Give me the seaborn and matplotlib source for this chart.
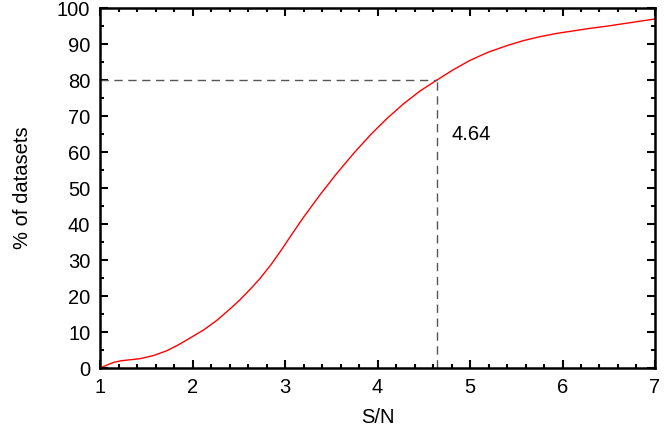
import matplotlib
matplotlib.use("Agg")
import matplotlib.pyplot as plt
import seaborn as sns
import pandas as pd
from matplotlib.ticker import MultipleLocator

sn = [1.0, 1.07, 1.15, 1.22, 1.32, 1.43, 1.58, 1.72, 1.85, 1.97, 2.12, 2.26, 2.4, 2.51,
      2.62, 2.73, 2.85, 2.96, 3.08, 3.2, 3.38, 3.56, 3.74, 3.92, 4.1, 4.28, 4.46, 4.64,
      4.82, 5.0, 5.2, 5.4, 5.58, 5.76, 5.94, 6.12, 6.3, 6.48, 6.74, 7.0]
pct = [0.0, 0.8, 1.6, 2.0, 2.3, 2.6, 3.5, 4.8, 6.5, 8.3, 10.6, 13.2, 16.3, 18.9,
       21.8, 24.9, 28.8, 32.8, 37.4, 41.9, 48.2, 54.1, 59.6, 64.7, 69.3, 73.4, 77.0, 80.0,
       82.9, 85.5, 87.8, 89.6, 91.0, 92.1, 93.0, 93.7, 94.4, 95.0, 96.0, 97.0]
threshold_x = 4.64
threshold_y = 80
label = "4.64"

sns.set_theme(style="ticks")
plt.rcParams['font.family'] = ['Liberation Sans', 'DejaVu Sans']
plt.rcParams['text.color'] = 'black'
plt.rcParams['axes.labelcolor'] = 'black'
plt.rcParams['xtick.labelcolor'] = 'black'
plt.rcParams['ytick.labelcolor'] = 'black'

df = pd.DataFrame({"S/N": sn, "pct": pct})
fig = plt.figure(figsize=(6.67, 4.30), dpi=100)
ax = fig.add_axes([0.150, 0.144, 0.832, 0.837])
sns.lineplot(data=df, x="S/N", y="pct", ax=ax, color="red", linewidth=1.0)

ax.plot([1, threshold_x], [threshold_y, threshold_y], color="#555555", linestyle=(0, (6, 4)), linewidth=1.0)
ax.plot([threshold_x, threshold_x], [0, threshold_y], color="#555555", linestyle=(0, (6, 4)), linewidth=1.0)
ax.text(4.8, 65, label, fontsize=14.5, va="center", ha="left", color="black")

ax.set_xlim(1, 7)
ax.set_ylim(0, 100)
ax.xaxis.set_major_locator(MultipleLocator(1))
ax.xaxis.set_minor_locator(MultipleLocator(0.2))
ax.yaxis.set_major_locator(MultipleLocator(10))
ax.yaxis.set_minor_locator(MultipleLocator(5))
ax.tick_params(which="both", direction="in", top=True, right=True, color="black", width=1.5)
ax.tick_params(which="major", length=6, labelsize=14.5, pad=7)
ax.tick_params(which="minor", length=3)
for s in ax.spines.values():
    s.set_visible(True)
    s.set_linewidth(1.8)
    s.set_color("black")
ax.set_xlabel("S/N", fontsize=14.5, labelpad=8)
ax.set_ylabel("% of datasets", fontsize=14.5, labelpad=18)
fig.savefig("out.png", dpi=100)
